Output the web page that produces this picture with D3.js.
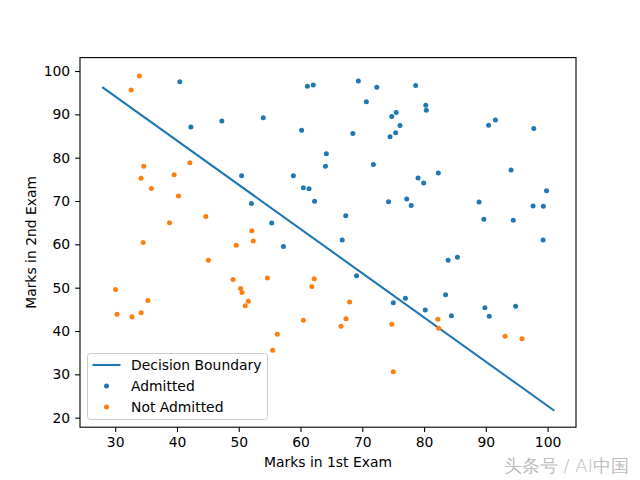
<!DOCTYPE html>
<html><head><meta charset="utf-8">
<script src="https://cdn.jsdelivr.net/npm/d3@7"></script>
<style>body{margin:0;background:#fff}svg{display:block}text{font-family:"DejaVu Sans",sans-serif}</style>
</head><body>
<script>
const admittedX=[60.18,79.03,61.11,75.02,76.10,84.43,82.31,69.36,53.97,69.07,70.66,76.98,89.68,77.92,62.27,80.19,61.38,85.40,52.05,64.18,83.90,94.44,77.19,97.77,62.07,91.56,79.94,99.27,90.55,97.65,74.25,71.80,75.40,40.46,80.28,66.75,64.04,72.35,60.46,58.84,99.83,47.26,50.46,88.91,94.83,67.32,57.24,80.37,68.47,75.48,78.64,94.09,90.45,74.49,89.85,83.49,42.26,99.32,55.34,74.78];
const admittedY=[86.31,75.34,96.51,46.55,87.42,43.53,76.48,97.72,89.21,52.74,92.93,47.58,65.80,68.97,69.95,44.82,72.81,57.05,69.43,80.91,56.31,65.57,70.46,86.73,96.77,88.70,74.16,61.00,43.39,68.86,69.82,78.45,85.76,97.54,92.12,60.99,78.03,96.23,73.09,75.86,72.37,88.48,75.81,69.80,45.69,66.59,59.51,90.96,85.59,90.42,96.65,77.16,87.51,84.85,45.36,48.38,87.10,68.78,64.93,89.53];
const notAdmittedX=[34.62,30.29,35.85,45.08,95.86,75.01,39.54,67.95,67.37,50.53,34.21,93.11,61.83,38.79,52.11,40.24,54.64,33.92,74.79,34.18,51.55,82.37,51.05,62.22,34.52,50.29,49.59,32.58,35.29,56.25,30.06,44.67,66.56,49.07,32.72,60.46,82.23,42.08,52.35,55.48];
const notAdmittedY=[78.02,43.89,72.90,56.32,38.23,30.60,76.04,46.68,42.84,48.86,44.21,38.80,50.26,65.00,63.13,71.17,52.21,98.87,41.57,75.24,46.86,40.62,45.82,52.06,60.40,49.80,59.81,95.60,47.02,39.26,49.59,66.45,41.09,51.88,43.31,42.51,42.72,78.84,60.77,35.57];
const boundaryX=[27.9,101.1];
const boundaryY=[96.3,21.6];
const xTicks=[30,40,50,60,70,80,90,100];
const yTicks=[20,30,40,50,60,70,80,90,100];
const seriesNames=["Decision Boundary","Admitted","Not Admitted"];
const xLabel="Marks in 1st Exam", yLabel="Marks in 2nd Exam";

const W=640,H=480, L=80, R=576, T=57.6, B=427.2;
const blue="#1f77b4", orange="#ff7f0e";
const svg=d3.select("body").append("svg").attr("width",W).attr("height",H);
const x=d3.scaleLinear().domain([24.3,104.6]).range([L,R]);
const y=d3.scaleLinear().domain([17.8,103.1]).range([B,T]);

const g=svg.append("g");
g.append("path").datum(boundaryX.map((v,i)=>[v,boundaryY[i]]))
 .attr("d",d3.line().x(d=>x(d[0])).y(d=>y(d[1])))
 .attr("fill","none").attr("stroke",blue).attr("stroke-width",2.1);
g.selectAll(".a").data(admittedX).enter().append("circle")
 .attr("cx",d=>x(d)).attr("cy",(d,i)=>y(admittedY[i])).attr("r",2.5).attr("fill",blue);
g.selectAll(".n").data(notAdmittedX).enter().append("circle")
 .attr("cx",d=>x(d)).attr("cy",(d,i)=>y(notAdmittedY[i])).attr("r",2.5).attr("fill",orange);

const xa=svg.append("g").attr("transform",`translate(0,${B})`)
 .call(d3.axisBottom(x).tickValues(xTicks).tickSize(4.9).tickPadding(4.9));
const ya=svg.append("g").attr("transform",`translate(${L},0)`)
 .call(d3.axisLeft(y).tickValues(yTicks).tickSize(4.9).tickPadding(4.9));
[xa,ya].forEach(a=>{a.select(".domain").remove();a.selectAll("line").attr("stroke","#000").attr("stroke-width",1.1);
 a.selectAll("text").attr("font-size","13.9px").attr("fill","#000").attr("font-family","DejaVu Sans");});
svg.append("rect").attr("x",L).attr("y",T).attr("width",R-L).attr("height",B-T)
 .attr("fill","none").attr("stroke","#000").attr("stroke-width",1.1);

svg.append("text").attr("x",(L+R)/2).attr("y",467).attr("text-anchor","middle")
 .attr("font-size","13.9px").text(xLabel);
svg.append("text").attr("transform",`translate(35.5,${(T+B)/2}) rotate(-90)`).attr("text-anchor","middle")
 .attr("font-size","13.9px").text(yLabel);

// legend
const lg=svg.append("g");
lg.append("rect").attr("x",87.5).attr("y",353.5).attr("width",180).attr("height",66).attr("rx",3)
 .attr("fill","#fff").attr("fill-opacity",0.8).attr("stroke","#cccccc").attr("stroke-width",1);
const rows=[365,386,407];
lg.append("line").attr("x1",92.5).attr("x2",120.5).attr("y1",rows[0]).attr("y2",rows[0]).attr("stroke",blue).attr("stroke-width",2.1);
lg.append("circle").attr("cx",106.5).attr("cy",rows[1]).attr("r",2.5).attr("fill",blue);
lg.append("circle").attr("cx",106.5).attr("cy",rows[2]).attr("r",2.5).attr("fill",orange);
seriesNames.forEach((s,i)=>lg.append("text").attr("x",131).attr("y",rows[i]).attr("dy","0.35em")
 .attr("font-size","13.9px").text(s));

svg.append("text").attr("x",629).attr("y",472).attr("text-anchor","end")
 .attr("font-family","'Noto Sans CJK SC',sans-serif").attr("font-size","18px").attr("font-weight",300)
 .attr("fill","#bdbdbd").text("头条号 / AI中国");
</script>
</body></html>
